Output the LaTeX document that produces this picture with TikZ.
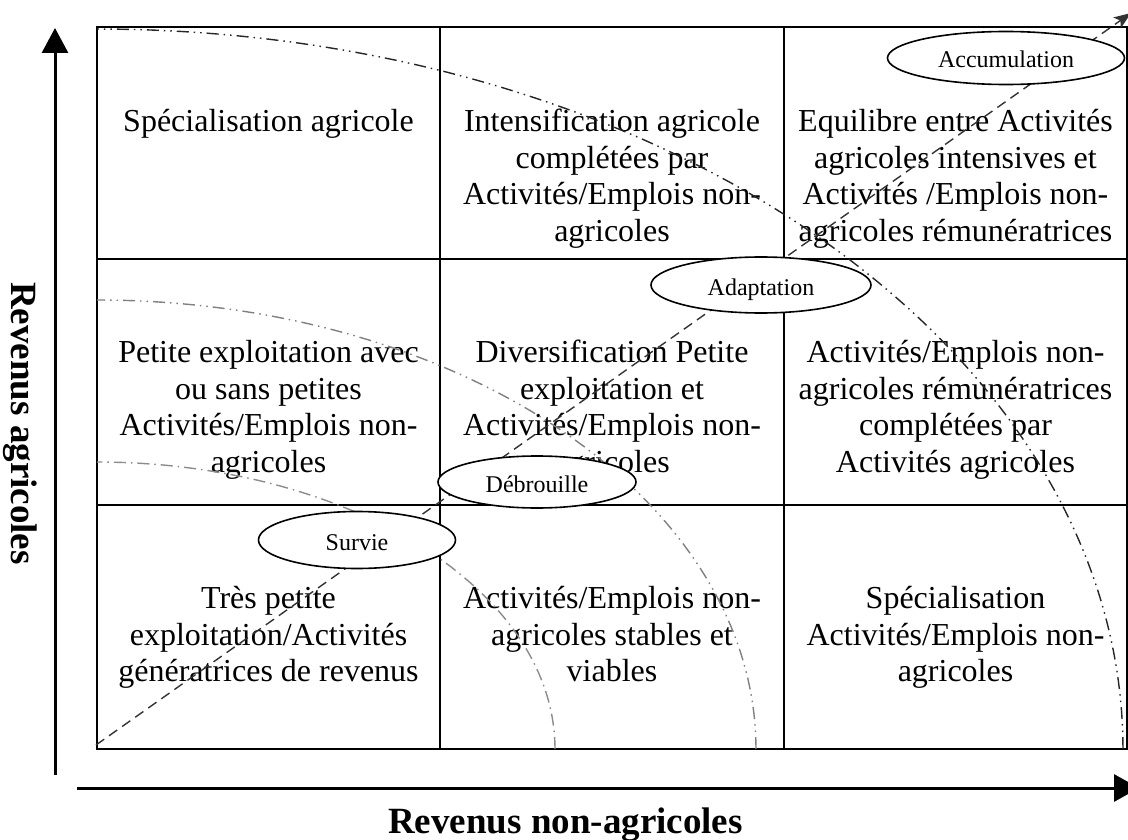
\documentclass[tikz,border=0pt]{standalone}
\usepackage{fontspec}
\setmainfont{Liberation Serif}
\usetikzlibrary{arrows.meta,shapes.geometric}
\newcommand{\fl}{\rule{0pt}{25pt}}
\begin{document}
\begin{tikzpicture}[x=1pt,y=-1pt,
  gridline/.style={line width=2pt, black},
  axisline/.style={line width=3pt, black},
  cell/.style={align=center, anchor=north, inner sep=0pt, font=\fontsize{32}{36.8}\selectfont},
  oval/.style={ellipse, draw, fill=white, line width=1.6pt, inner sep=0pt,
    font=\fontsize{24}{28}\selectfont, text height=22pt, text depth=2pt},
  curveouter/.style={line width=1.4pt, color=black!85,
    dash pattern=on 12pt off 5pt on 1.5pt off 5pt on 1.5pt off 5pt},
  curvemid/.style={line width=1.4pt, color=black!50,
    dash pattern=on 12pt off 5pt on 1.5pt off 5pt on 1.5pt off 5pt},
  curveinner/.style={line width=1.4pt, color=black!45,
    dash pattern=on 12pt off 5pt on 1.5pt off 5pt},
  diag/.style={line width=1.4pt, color=black!80, dash pattern=on 10pt off 6pt},
  axislabel/.style={inner sep=0pt, font=\fontsize{37}{42}\selectfont\bfseries}
]
\useasboundingbox (0,0) rectangle (1128,840);

% grid corners
\coordinate (g00) at (97,27);
\coordinate (g33) at (1127,749);
\coordinate (v1t) at (440,27);  \coordinate (v1b) at (440,749);
\coordinate (v2t) at (784,27);  \coordinate (v2b) at (784,749);
\coordinate (h1l) at (97,259);  \coordinate (h1r) at (1127,259);
\coordinate (h2l) at (97,505);  \coordinate (h2r) at (1127,505);

\draw[gridline] (g00) rectangle (g33);
\draw[gridline] (v1t) -- (v1b);
\draw[gridline] (v2t) -- (v2b);
\draw[gridline] (h1l) -- (h1r);
\draw[gridline] (h2l) -- (h2r);

% axes
\coordinate (ya0) at (55,775);
\coordinate (ya1) at (55,28);
\coordinate (xa0) at (77,788);
\coordinate (xa1) at (1139,788);
\draw[axisline, -{Triangle[length=25pt,width=26pt]}] (ya0) -- (ya1);
\draw[axisline, -{Triangle[length=25pt,width=27pt]}] (xa0) -- (xa1);

\node[axislabel, rotate=-90, anchor=base west] (ylab) at (11,282) {Revenus agricoles};
\node[axislabel, anchor=base west] (xlab) at (388,833) {Revenus non-agricoles};

% cell texts
\node[cell] (c11) at (268.5,106) {\fl Spécialisation agricole};
\node[cell] (c12) at (612,106) {\fl Intensification agricole\\complétées par\\Activités/Emplois non-\\agricoles};
\node[cell] (c13) at (955.5,106) {\fl Equilibre entre Activités\\agricoles intensives et\\Activités /Emplois non-\\agricoles rémunératrices};

\node[cell] (c21) at (268.5,337) {\fl Petite exploitation avec\\ou sans petites\\Activités/Emplois non-\\agricoles};
\node[cell] (c22) at (612,337) {\fl Diversification Petite\\exploitation et\\Activités/Emplois non-\\agricoles};
\node[cell] (c23) at (955.5,337) {\fl Activités/Emplois non-\\agricoles rémunératrices\\complétées par\\Activités agricoles};

\node[cell] (c31) at (268.5,583) {\fl Très petite\\exploitation/Activités\\génératrices de revenus};
\node[cell] (c32) at (612,583) {\fl Activités/Emplois non-\\agricoles stables et\\viables};
\node[cell] (c33) at (955.5,583) {\fl Spécialisation\\Activités/Emplois non-\\agricoles};

% quarter-ellipse curves centred on the bottom-left corner
\draw[curveouter] plot[domain=0:90, samples=150] ({97+1026*cos(\x)}, {749-720*sin(\x)});
\draw[curvemid] plot[domain=0:90, samples=120] ({97+659*cos(\x)}, {749-449*sin(\x)});
\draw[curveinner] plot[domain=0:90, samples=100] ({97+458*cos(\x)}, {749-287*sin(\x)});

% diagonal dashed arrow
\coordinate (dstart) at (96,745);
\coordinate (dend) at (1131,13);
\draw[diag, -{Stealth[length=17pt,width=13pt,inset=4pt,sep=0pt]}] (dstart) -- (dend);

% ovals
\node[oval, minimum width=197pt, minimum height=57pt] (survie) at (357,540) {Survie};
\node[oval, minimum width=198pt, minimum height=52pt] (debrouille) at (537,482) {Débrouille};
\node[oval, minimum width=220pt, minimum height=56pt] (adaptation) at (761,285) {Adaptation};
\node[oval, minimum width=237pt, minimum height=53pt] (accumulation) at (1006,58) {Accumulation};
\end{tikzpicture}
\end{document}
